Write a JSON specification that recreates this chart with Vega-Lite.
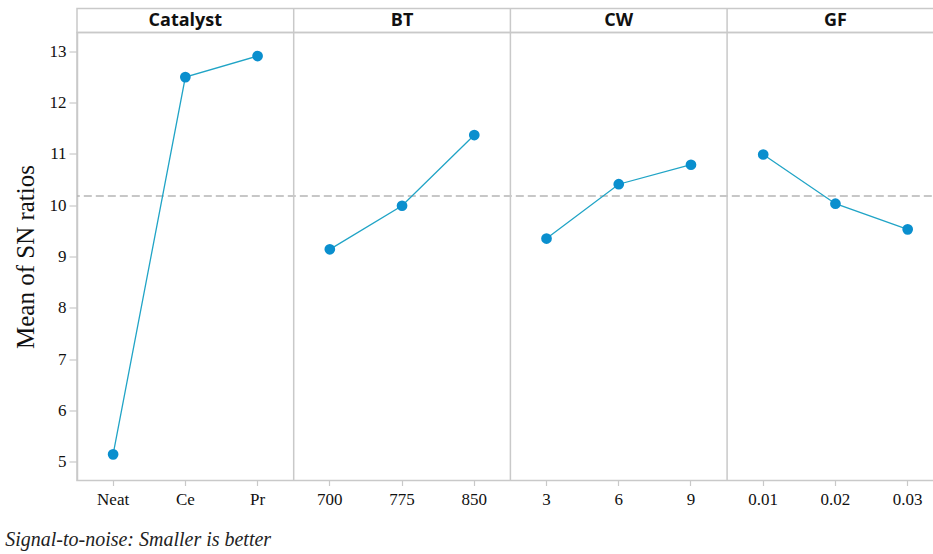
{
  "$schema": "https://vega.github.io/schema/vega-lite/v6.json",
  "background": "white",
  "padding": {"left": 5, "top": 6.5, "right": 0, "bottom": 5},
  "spacing": 0,
  "bounds": "flush",
  "title": {
    "text": "Signal-to-noise: Smaller is better",
    "orient": "bottom",
    "anchor": "start",
    "offset": 22,
    "dx": -8,
    "font": "Liberation Serif",
    "fontStyle": "italic",
    "fontWeight": "normal",
    "fontSize": 20,
    "color": "#222222"
  },
  "config": {
    "view": {"stroke": "#c9c9c9", "strokeWidth": 1.5},
    "axis": {
      "grid": false,
      "domainColor": "#c9c9c9",
      "domainWidth": 1.5,
      "tickColor": "#c9c9c9",
      "tickWidth": 1.2,
      "labelFont": "Liberation Serif",
      "labelFontSize": 17,
      "labelColor": "#111111",
      "titleFont": "Liberation Serif",
      "titleFontSize": 25,
      "titleFontWeight": "normal",
      "titleColor": "#111111"
    },
    "axisX": {"title": null, "labelAngle": 0, "tickSize": 5, "labelPadding": 6, "domain": false, "bandPosition": 0.5}
  },
  "datasets": {
    "sn": [
      {"factor": "Catalyst", "level": "Neat", "order": 1, "sn": 5.14},
      {"factor": "Catalyst", "level": "Ce", "order": 2, "sn": 12.50},
      {"factor": "Catalyst", "level": "Pr", "order": 3, "sn": 12.91},
      {"factor": "BT", "level": "700", "order": 1, "sn": 9.14},
      {"factor": "BT", "level": "775", "order": 2, "sn": 9.99},
      {"factor": "BT", "level": "850", "order": 3, "sn": 11.37},
      {"factor": "CW", "level": "3", "order": 1, "sn": 9.35},
      {"factor": "CW", "level": "6", "order": 2, "sn": 10.41},
      {"factor": "CW", "level": "9", "order": 3, "sn": 10.79},
      {"factor": "GF", "level": "0.01", "order": 1, "sn": 10.99},
      {"factor": "GF", "level": "0.02", "order": 2, "sn": 10.03},
      {"factor": "GF", "level": "0.03", "order": 3, "sn": 9.53}
    ]
  },
  "vconcat": [
    {
      "data": {"name": "sn"},
      "transform": [{"filter": "datum.order === 1"}],
      "width": 866.8,
      "height": 24,
      "layer": [
        {
          "transform": [{"filter": "datum.factor !== 'Catalyst'"}],
          "mark": {"type": "rule", "color": "#c9c9c9", "strokeWidth": 1.5},
          "encoding": {
            "x": {
              "field": "factor", "type": "nominal", "bandPosition": 0,
              "scale": {"domain": ["Catalyst", "BT", "CW", "GF"], "paddingInner": 0, "paddingOuter": 0},
              "axis": null
            }
          }
        },
        {
          "mark": {"type": "text", "font": "Open Sans", "fontWeight": "bold", "fontSize": 18, "color": "#111111"},
          "encoding": {
            "x": {"field": "factor", "type": "nominal"},
            "text": {"field": "factor", "type": "nominal"}
          }
        }
      ]
    },
    {
      "data": {"name": "sn"},
      "width": 866.8,
      "height": 448,
      "layer": [
        {
          "mark": {"type": "rule", "color": "#b5b5b5", "strokeDash": [8, 4], "strokeWidth": 1.5},
          "encoding": {
            "y": {
              "field": "sn", "aggregate": "mean", "type": "quantitative",
              "scale": {"domain": [4.63, 13.37], "nice": false, "zero": false},
              "axis": {"title": "Mean of SN ratios", "values": [5, 6, 7, 8, 9, 10, 11, 12, 13], "tickSize": 8, "labelPadding": 3, "titlePadding": 10}
            }
          }
        },
        {
          "transform": [{"filter": "datum.order === 1 && datum.factor !== 'Catalyst'"}],
          "mark": {"type": "rule", "color": "#c9c9c9", "strokeWidth": 1.5},
          "encoding": {
            "x": {
              "field": "level", "type": "nominal", "bandPosition": 0,
              "scale": {
                "domain": ["Neat", "Ce", "Pr", "700", "775", "850", "3", "6", "9", "0.01", "0.02", "0.03"],
                "paddingInner": 0, "paddingOuter": 0
              }
            }
          }
        },
        {
          "mark": {"type": "line", "color": "#20a4c6", "strokeWidth": 1.3},
          "encoding": {
            "x": {"field": "level", "type": "nominal"},
            "y": {"field": "sn", "type": "quantitative", "title": "Mean of SN ratios"},
            "detail": {"field": "factor", "type": "nominal"},
            "order": {"field": "order", "type": "quantitative"}
          }
        },
        {
          "mark": {"type": "point", "filled": true, "size": 115, "opacity": 1, "color": "#0a8fce"},
          "encoding": {
            "x": {"field": "level", "type": "nominal"},
            "y": {"field": "sn", "type": "quantitative", "title": "Mean of SN ratios"}
          }
        }
      ]
    }
  ]
}
